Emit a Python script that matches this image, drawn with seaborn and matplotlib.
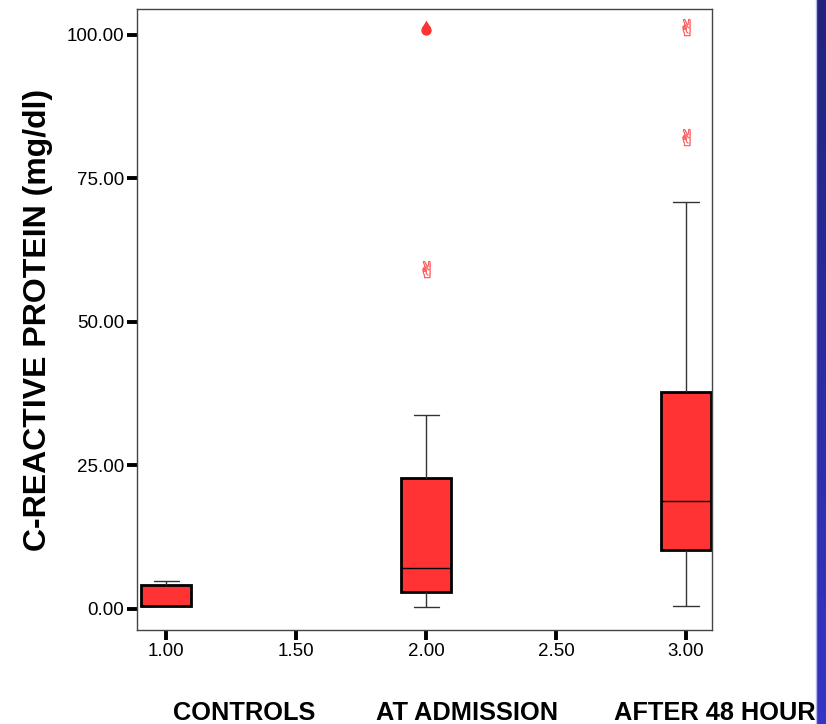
import numpy as np
import pandas as pd
import matplotlib
matplotlib.use("Agg")
import matplotlib.pyplot as plt
from matplotlib.path import Path
import seaborn as sns

# group positions on the numeric x axis
groups = [1.0, 2.0, 3.0]
group_names = ["CONTROLS", "AT ADMISSION", "AFTER 48 HOURS"]

# five-number summaries (min, Q1, median, Q3, max of whiskers)
controls = [0.4, 0.4, 0.45, 4.2, 4.9]
admission = [0.35, 2.96, 7.1, 22.8, 33.8]
after_48h = [0.5, 10.3, 18.8, 37.8, 70.9]

# outliers / extremes
outlier_x = [2.0, 3.0, 3.0]
outlier_y = [59.2, 82.2, 101.4]
extreme_x = [2.0]
extreme_y = [100.9]

yticks = [0, 25, 50, 75, 100]
xticks = [1.0, 1.5, 2.0, 2.5, 3.0]

df = pd.DataFrame({
    "group": np.repeat(groups, 5),
    "crp": controls + admission + after_48h,
})

sns.set_style("white")
plt.rcParams["font.family"] = ["Liberation Sans", "DejaVu Sans"]
plt.rcParams["text.color"] = "black"
plt.rcParams["axes.labelcolor"] = "black"
plt.rcParams["xtick.color"] = "black"
plt.rcParams["ytick.color"] = "black"

fig = plt.figure(figsize=(8.26, 7.24), dpi=100)
ax = fig.add_axes([137 / 826, 1 - 630 / 724, (712 - 137) / 826, (630 - 9) / 724])

sns.boxplot(data=df, x="group", y="crp", native_scale=True, ax=ax,
            color="#ff3333", saturation=1, width=0.193, whis=(0, 100),
            showfliers=False, linecolor="black",
            boxprops=dict(linewidth=2.0, edgecolor="black"),
            whiskerprops=dict(linewidth=1.0, color="#333333"),
            capprops=dict(linewidth=1.0, color="#333333"),
            medianprops=dict(linewidth=1.0, color="black"))

# drop-shaped marker for the extreme value (same winding as the circle so it fills)
circle = Path.unit_circle()
tip = Path([(0.8, 0.6), (0.0, 1.9), (-0.8, 0.6), (0.8, 0.6)],
           [Path.MOVETO, Path.LINETO, Path.LINETO, Path.CLOSEPOLY])
drop = Path.make_compound_path(circle, tip)

ax.scatter(outlier_x, outlier_y, marker="$\u270C$", s=150, color="#ff5050",
           linewidths=0.3, zorder=5)
ax.scatter(extreme_x, extreme_y, marker=drop, s=200, color="#ff3333",
           linewidths=0, zorder=5)

ax.set_xlim(0.888, 3.1)
ax.set_ylim(-3.7, 104.5)
ax.set_xticks(xticks)
ax.set_xticklabels([f"{v:.2f}" for v in xticks])
ax.set_yticks(yticks)
ax.set_yticklabels([f"{v:.2f}" for v in yticks])
ax.tick_params(axis="both", direction="out", length=7, width=2.8, color="black",
               labelsize=13.5, pad=2, left=True, bottom=True)
ax.set_xlabel("")
ax.set_ylabel("C-REACTIVE PROTEIN (mg/dl)", fontsize=23, fontweight="bold",
              labelpad=10)
for side in ["left", "bottom", "top", "right"]:
    ax.spines[side].set_visible(True)
    ax.spines[side].set_color("#444444")
    ax.spines[side].set_linewidth(1.0)

# category captions under the axis (the last one runs under the blue bar, as in the slide)
for name, xpos in zip(group_names, [173, 376, 614]):
    fig.text(xpos / 826, 1 - 720 / 724, name, fontsize=18.3, fontweight="bold",
             ha="left", va="baseline")

# blue slide bar on the right edge
bar = fig.add_axes([816 / 826, 0, 10 / 826, 1], zorder=10)
grad = np.linspace(0, 1, 256).reshape(-1, 1)
cmap = matplotlib.colors.LinearSegmentedColormap.from_list("bar", ["#23237c", "#3535c6"])
bar.imshow(grad, aspect="auto", cmap=cmap, extent=[0, 1, 0, 1], origin="upper")
bar.axis("off")
fig.add_artist(plt.Line2D([815.5 / 826] * 2, [0, 1], color="#b8b8e8", linewidth=1, zorder=11))

fig.savefig("out.png", dpi=100)
